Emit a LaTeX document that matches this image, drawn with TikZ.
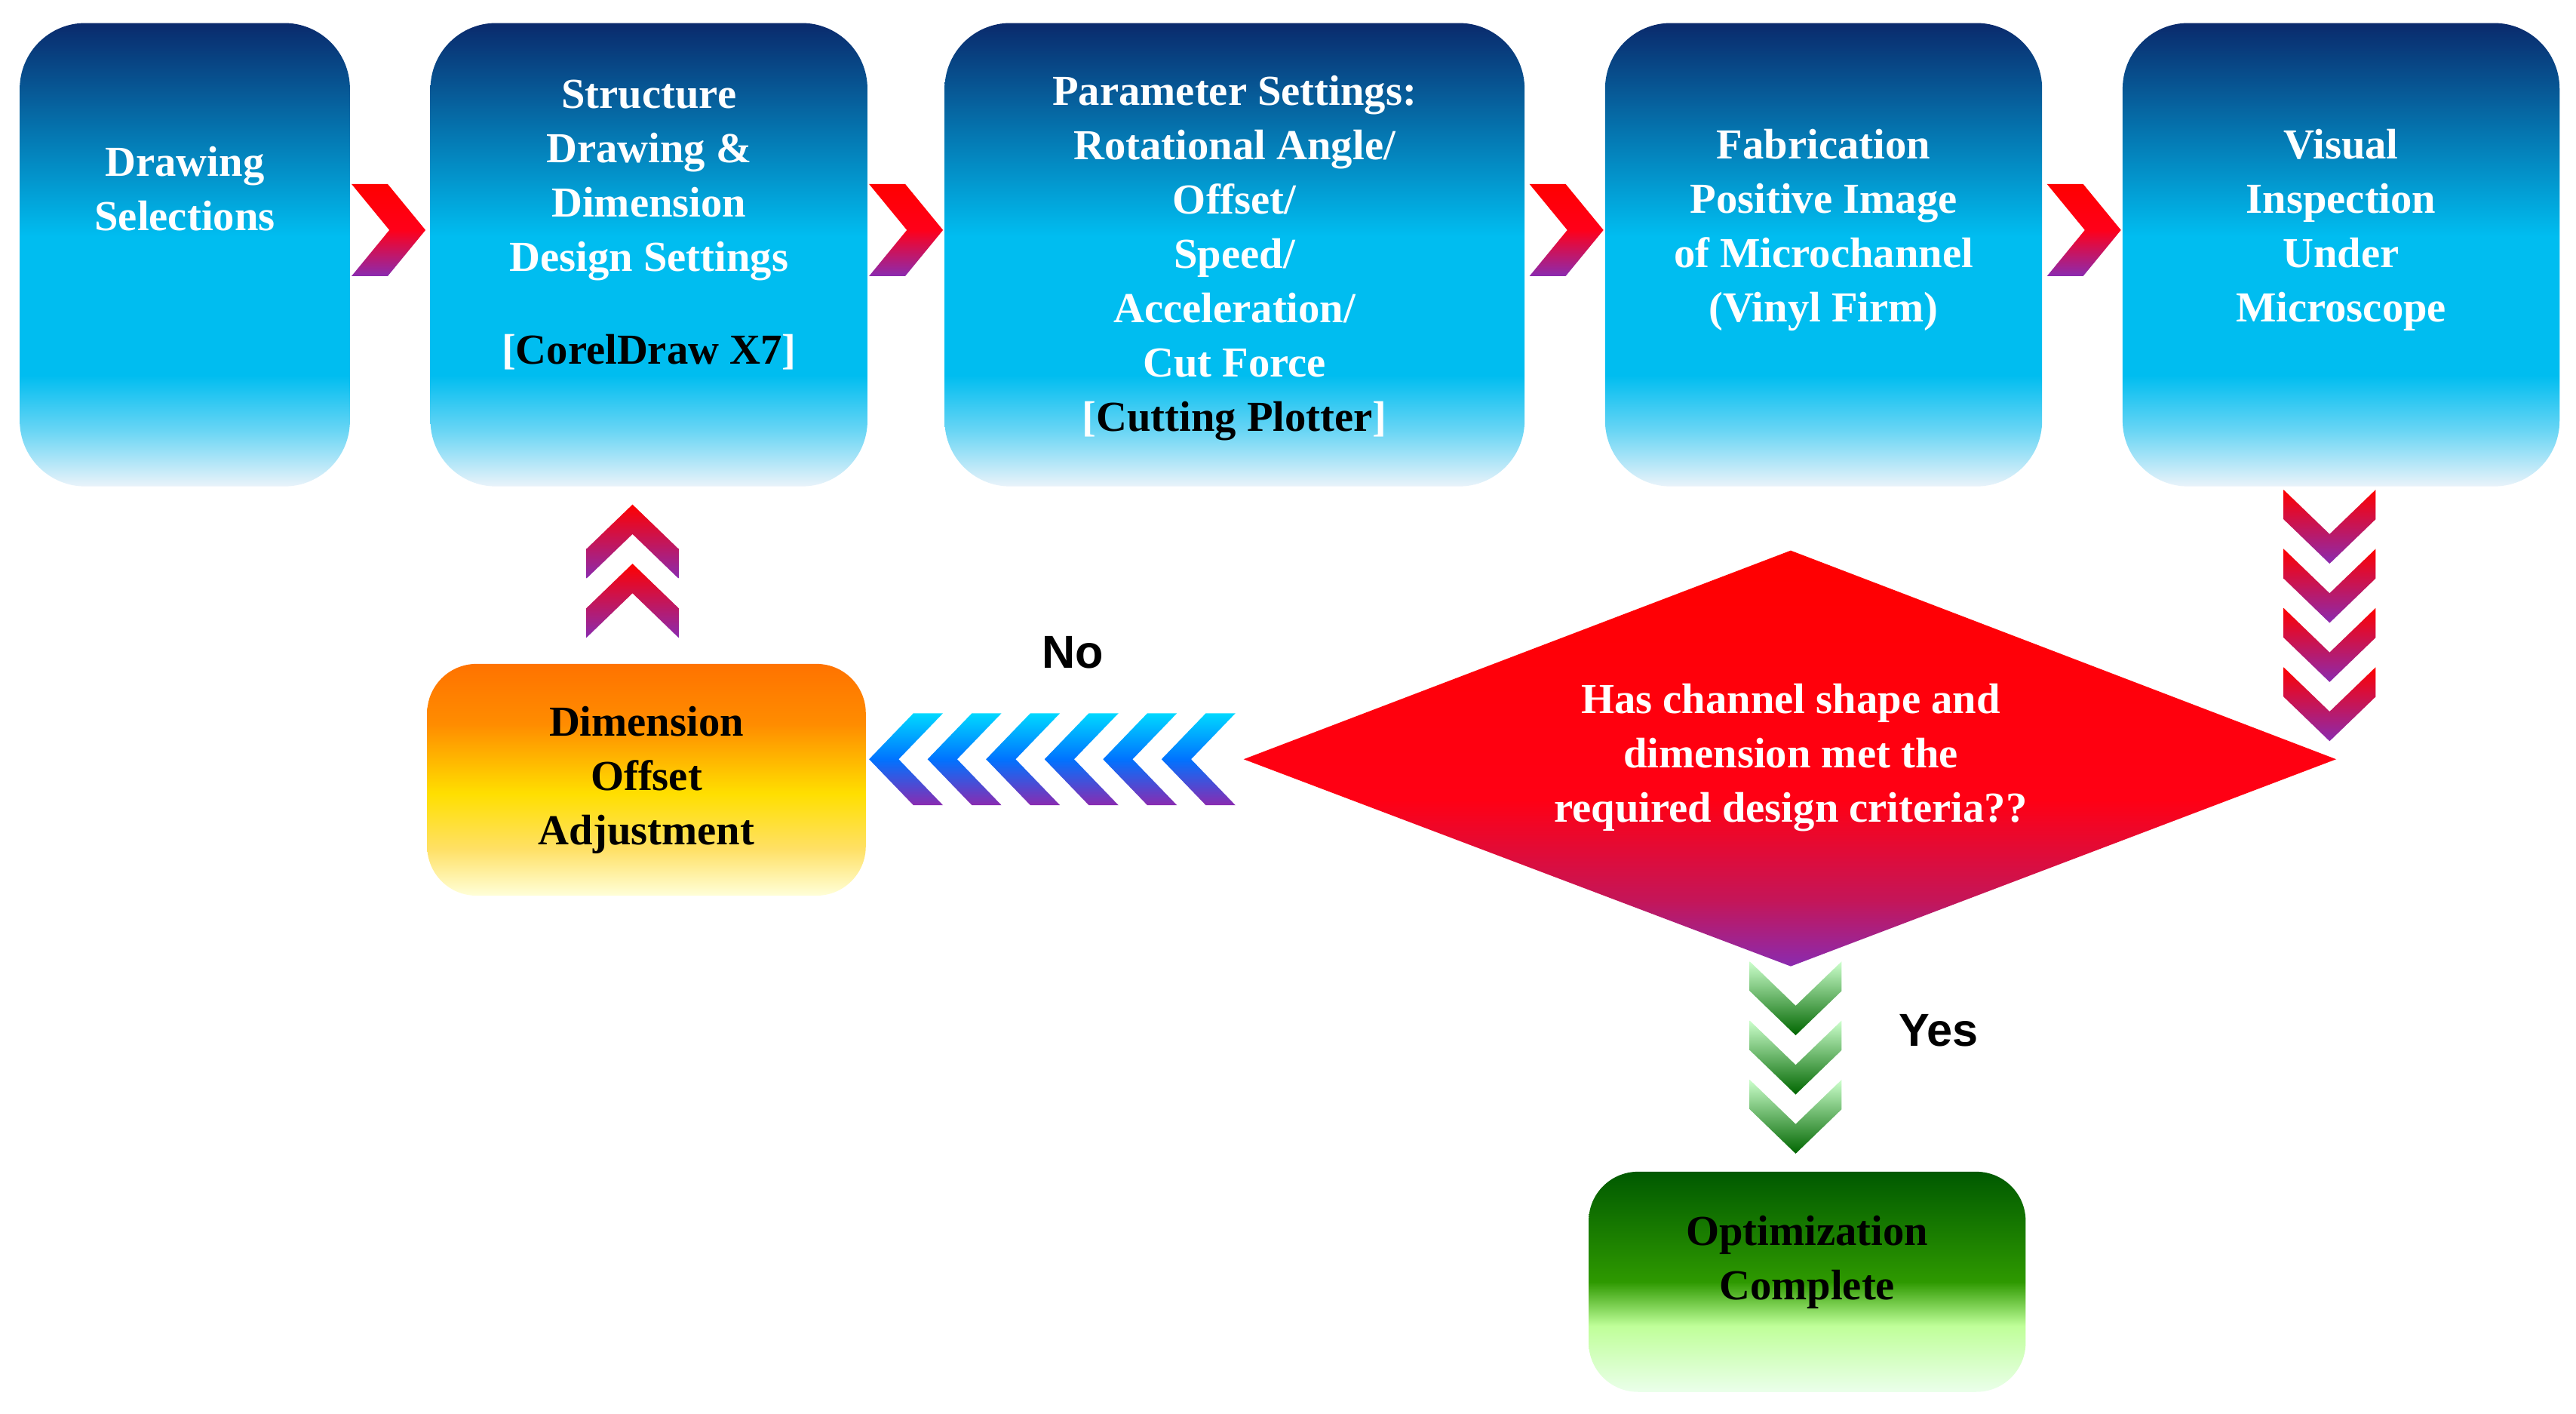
\documentclass[tikz,border=0pt]{standalone}
\usepackage{fontspec}
\setmainfont{Liberation Serif}
\newfontfamily\sansf{Liberation Sans}
\usetikzlibrary{shapes.geometric}
\definecolor{navyb}{HTML}{0A2A6C}
\definecolor{cyanb}{HTML}{00BDF0}
\definecolor{lightb}{HTML}{EAF3FA}
\definecolor{purp}{HTML}{8A2BB0}
\pgfdeclareverticalshading{boxshade}{100bp}{color(0bp)=(lightb); color(25bp)=(lightb); color(31bp)=(cyanb!55!lightb); color(37bp)=(cyanb); color(52bp)=(cyanb); color(75bp)=(navyb); color(100bp)=(navyb)}
\pgfdeclareverticalshading{orshade}{100bp}{color(0bp)=(yellow!15!white); color(25bp)=(yellow!15!white); color(35bp)=(yellow!60!orange!60!white); color(47bp)=(yellow!75!orange); color(62bp)=(orange!90!yellow); color(75bp)=(orange!90!red); color(100bp)=(orange!90!red)}
\pgfdeclareverticalshading{grshade}{100bp}{color(0bp)=(green!8!white); color(25bp)=(green!8!white); color(40bp)=(green!50!lime!40!white); color(50bp)=(green!60!lime!60!black); color(75bp)=(green!35!black); color(100bp)=(green!35!black)}
\pgfdeclareverticalshading{dishade}{100bp}{color(0bp)=(purp); color(25bp)=(purp); color(33bp)=(purp!50!red); color(45bp)=(red!92!magenta); color(75bp)=(red); color(100bp)=(red)}
\newcommand\chev[7]{%
\begin{scope}[shift={(#1,#2)},rotate=#6]
\shade[#7] (-22,-28) -- (-22+#5,-28) -- (23,0) -- (-22+#5,28) -- (-22,28) -- (23-#5,0) -- cycle;
\end{scope}}
\tikzset{
 box/.style={rectangle, rounded corners=0.8cm, inner sep=0pt, shading=boxshade},
 wt/.style={text=white, font=\bfseries\fontsize{14.8}{18.8}\selectfont, align=center},
 bt/.style={text=black, font=\bfseries\fontsize{14.8}{18.8}\selectfont, align=center},
 lab/.style={font=\sansf\bfseries\fontsize{16}{19}\selectfont},
 redc/.style={top color=red, bottom color=purp, middle color=red!90!magenta},
}
\begin{document}
\begin{tikzpicture}[x=0.02cm,y=-0.02cm]
\useasboundingbox (0,0) rectangle (1568,860);
\node[box, minimum width=201*0.02cm, minimum height=282*0.02cm] (b1) at (112.5,155) {};
\node[box, minimum width=266*0.02cm, minimum height=282*0.02cm] (b2) at (395,155) {};
\node[box, minimum width=353*0.02cm, minimum height=282*0.02cm] (b3) at (751.5,155) {};
\node[box, minimum width=266*0.02cm, minimum height=282*0.02cm] (b4) at (1110,155) {};
\node[box, minimum width=266*0.02cm, minimum height=282*0.02cm] (b5) at (1425,155) {};
\node[wt] (t1) at (112.5,115) {Drawing\\Selections};
\node[wt] (t2) at (395,137) {Structure\\Drawing \&\\Dimension\\Design Settings\\[0.9em][\textcolor{black}{CorelDraw X7}]};
\node[wt] (t3) at (751.5,157) {Parameter Settings:\\Rotational Angle/\\Offset/\\Speed/\\Acceleration/\\Cut Force\\{}[\textcolor{black}{Cutting Plotter}]};
\node[wt] (t4) at (1110,140) {Fabrication\\Positive Image\\of Microchannel\\(Vinyl Firm)};
\node[wt] (t5) at (1425,140) {Visual\\Inspection\\Under\\Microscope};
\chev{236}{140}{43}{56}{22}{0}{redc}
\chev{551}{140}{43}{56}{22}{0}{redc}
\chev{953}{140}{43}{56}{22}{0}{redc}
\chev{1268}{140}{43}{56}{22}{0}{redc}
\foreach \yy in {320,356,392,428}{\chev{1418}{\yy}{45}{57}{18}{-90}{top color=red, bottom color=purp}}
\foreach \yy in {330,366}{\chev{385}{\yy}{45}{57}{18}{90}{top color=red, bottom color=purp}}
\path[shading=dishade] (757,462) -- (1090,335) -- (1422,462) -- (1090,588) -- cycle;
\node[wt] (d) at (1090,461) {Has channel shape and\\dimension met the\\required design criteria??};
\foreach \xx in {552,587.6,623.2,658.8,694.4,730}{\chev{\xx}{462}{45}{57}{18}{180}{top color=cyan!85!blue, bottom color=purp, middle color=blue!55!cyan}}
\foreach \yy in {607,643,679}{\chev{1093}{\yy}{45}{57}{18}{-90}{top color=green!20!white, bottom color=green!40!black}}
\node[rectangle, rounded corners=0.6cm, shading=orshade, minimum width=267*0.02cm, minimum height=141*0.02cm] (o) at (393.5,474.5) {};
\node[bt] (ot) at (393.5,474.5) {Dimension\\Offset\\Adjustment};
\node[rectangle, rounded corners=0.6cm, shading=grshade, minimum width=266*0.02cm, minimum height=134*0.02cm] (g) at (1100,780) {};
\node[bt] (gt) at (1100,768) {Optimization\\Complete};
\node[lab] (no) at (653,397) {No};
\node[lab] (yes) at (1180,627) {Yes};
\end{tikzpicture}
\end{document}
